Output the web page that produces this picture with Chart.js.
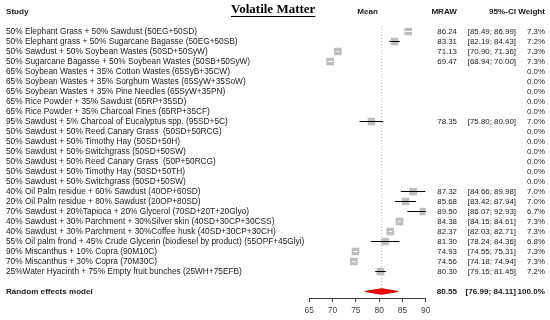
<!DOCTYPE html>
<html>
<head>
<meta charset="utf-8">
<script src="https://cdn.jsdelivr.net/npm/chart.js@4.4.1/dist/chart.umd.min.js"></script>
<style>
  html, body { margin: 0; padding: 0; background: #fff; }
</style>
</head>
<body>
<canvas id="forest" width="550" height="320"></canvas>
<script>
// Study rows, top to bottom
const studyLabels = [
  "50% Elephant Grass + 50% Sawdust (50EG+50SD)",
  "50% Elephant grass + 50% Sugarcane Bagasse (50EG+50SB)",
  "50% Sawdust + 50% Soybean Wastes (50SD+50SyW)",
  "50% Sugarcane Bagasse + 50% Soybean Wastes (50SB+50SyW)",
  "65% Soybean Wastes + 35% Cotton Wastes (65SyB+35CW)",
  "65% Soybean Wastes + 35% Sorghum Wastes (65SyW+35SoW)",
  "65% Soybean Wastes + 35% Pine Needles (65SyW+35PN)",
  "65% Rice Powder + 35% Sawdust (65RP+35SD)",
  "65% Rice Powder + 35% Charcoal Fines (65RP+35CF)",
  "95% Sawdust + 5% Charcoal of Eucalyptus spp. (95SD+5C)",
  "50% Sawdust + 50% Reed Canary Grass  (50SD+50RCG)",
  "50% Sawdust + 50% Timothy Hay (50SD+50H)",
  "50% Sawdust + 50% Switchgrass (50SD+50SW)",
  "50% Sawdust + 50% Reed Canary Grass  (50P+50RCG)",
  "50% Sawdust + 50% Timothy Hay (50SD+50TH)",
  "50% Sawdust + 50% Switchgrass (50SD+50SW)",
  "40% Oil Palm residue + 60% Sawdust (40OP+60SD)",
  "20% Oil Palm residue + 80% Sawdust (20OP+80SD)",
  "70% Sawdust + 20%Tapioca + 20% Glycerol (70SD+20T+20Glyo)",
  "40% Sawdust + 30% Parchment + 30%Silver skin (40SD+30CP+30CSS)",
  "40% Sawdust + 30% Parchment + 30%Coffee husk (40SD+30CP+30CH)",
  "55% Oil palm frond + 45% Crude Glycerin (biodiesel by product) (55OPF+45Glyi)",
  "90% Miscanthus + 10% Copra (90M10C)",
  "70% Miscanthus + 30% Copra (70M30C)",
  "25%Water Hyacinth + 75% Empty fruit bunches (25WH+75EFB)"
];

// Mean (MRAW) and 95% CI per study, null when the study has no estimate
const meanValues = [86.24, 83.31, 71.13, 69.47, null, null, null, null, null, 78.35,
  null, null, null, null, null, null, 87.32, 85.68, 89.50, 84.38, 82.37, 81.30, 74.93, 74.56, 80.30];
const ciLower = [85.49, 82.19, 70.90, 68.94, null, null, null, null, null, 75.80,
  null, null, null, null, null, null, 84.66, 83.42, 86.07, 84.15, 82.03, 78.24, 74.55, 74.18, 79.15];
const ciUpper = [86.99, 84.43, 71.36, 70.00, null, null, null, null, null, 80.90,
  null, null, null, null, null, null, 89.98, 87.94, 92.93, 84.61, 82.71, 84.36, 75.31, 74.94, 81.45];
const weights = [7.3, 7.2, 7.3, 7.3, 0, 0, 0, 0, 0, 7.0,
  0, 0, 0, 0, 0, 0, 7.0, 7.0, 6.7, 7.3, 7.3, 6.8, 7.3, 7.3, 7.2];

// Random effects summary
const pooledLabel = "Random effects model";
const pooledMean = 80.55;
const pooledLower = 76.99;
const pooledUpper = 84.11;
const pooledWeight = 100.0;

const xTickValues = [65, 70, 75, 80, 85, 90];

document.addEventListener("DOMContentLoaded", function() {
  const pooledRow = studyLabels.length + 1;   // one blank row before the summary
  const squareUnits = 1.6;                    // approx. square width in x units
  const txtFont = '8.3px "Liberation Sans", Arial, sans-serif';
  const numFont = '7.9px "Liberation Sans", Arial, sans-serif';
  const boldFont = 'bold 8.1px "Liberation Sans", Arial, sans-serif';

  // squares (size from weight)
  const squarePoints = [];
  const squareRadius = [];
  // CI lines, split in black (outside square) and white (inside square)
  const ciOuter = [];
  const ciInner = [];
  meanValues.forEach((m, i) => {
    if (m === null) return;
    squarePoints.push({ x: m, y: i });
    const side = 7.7 * Math.sqrt(weights[i] / 7.3);
    squareRadius.push(side / (2 * Math.SQRT1_2));
    const target = (ciUpper[i] - ciLower[i]) < squareUnits ? ciInner : ciOuter;
    target.push({ x: ciLower[i], y: i }, { x: ciUpper[i], y: i }, { x: null, y: null });
  });

  // summary diamond
  const dh = 0.28;
  const diamond = [
    { x: pooledLower, y: pooledRow },
    { x: pooledMean, y: pooledRow - dh },
    { x: pooledUpper, y: pooledRow },
    { x: pooledMean, y: pooledRow + dh },
    { x: pooledLower, y: pooledRow }
  ];

  // text columns drawn next to the plot
  const textColumns = {
    id: "textColumns",
    afterDraw(chart) {
      const { ctx, scales: { x, y } } = chart;
      const colMraw = 457, colCi = 516, colW = 545, colStudy = 6;
      const fmt = v => v.toFixed(2);
      ctx.save();
      ctx.textBaseline = "middle";
      ctx.fillStyle = "#1a1a1a";

      // headers
      const hy = y.getPixelForValue(-2);
      ctx.font = boldFont;
      ctx.textAlign = "left";
      ctx.fillText("Study", colStudy, hy);
      ctx.textAlign = "center";
      ctx.fillText("Mean", (x.left + x.right) / 2, hy);
      ctx.textAlign = "right";
      ctx.fillText("MRAW", colMraw, hy);
      ctx.fillText("95%-CI", colCi, hy);
      ctx.fillText("Weight", colW, hy);

      // title
      ctx.font = 'bold 13px "Liberation Serif", "Times New Roman", serif';
      ctx.textAlign = "left";
      ctx.fillStyle = "#000";
      const title = "Volatile Matter";
      ctx.fillText(title, 231, 10);
      const tw = ctx.measureText(title).width;
      ctx.fillRect(231, 16, tw, 1);

      // study rows
      ctx.fillStyle = "#1a1a1a";
      studyLabels.forEach((label, i) => {
        const py = y.getPixelForValue(i);
        ctx.font = txtFont;
        ctx.textAlign = "left";
        ctx.fillText(label, colStudy, py);
        ctx.font = numFont;
        ctx.textAlign = "right";
        if (meanValues[i] !== null) {
          ctx.fillText(fmt(meanValues[i]), colMraw, py);
          ctx.fillText("[" + fmt(ciLower[i]) + "; " + fmt(ciUpper[i]) + "]", colCi, py);
        }
        ctx.fillText(weights[i].toFixed(1) + "%", colW, py);
      });

      // summary row
      const py = y.getPixelForValue(pooledRow);
      ctx.font = boldFont;
      ctx.textAlign = "left";
      ctx.fillText(pooledLabel, colStudy, py);
      ctx.textAlign = "right";
      ctx.fillText(fmt(pooledMean), colMraw, py);
      ctx.fillText("[" + fmt(pooledLower) + "; " + fmt(pooledUpper) + "]", colCi, py);
      ctx.fillText(pooledWeight.toFixed(1) + "%", colW, py);
      ctx.restore();
    }
  };

  new Chart(document.getElementById("forest"), {
    type: "scatter",
    data: {
      datasets: [
        {
          // dotted line at the pooled estimate
          data: [{ x: pooledMean, y: -0.55 }, { x: pooledMean, y: pooledRow }],
          showLine: true,
          borderColor: "#b0b0b0",
          borderWidth: 1,
          borderDash: [1, 2],
          pointRadius: 0,
          order: 5
        },
        {
          data: squarePoints,
          pointStyle: "rect",
          pointRadius: squareRadius,
          backgroundColor: "#bebebe",
          borderWidth: 0,
          order: 4
        },
        {
          data: ciOuter,
          showLine: true,
          spanGaps: false,
          borderColor: "#000",
          borderWidth: 1,
          pointRadius: 0,
          order: 3
        },
        {
          data: ciInner,
          showLine: true,
          spanGaps: false,
          borderColor: "#fff",
          borderWidth: 1,
          pointRadius: 0,
          order: 2
        },
        {
          data: diamond,
          showLine: true,
          fill: "shape",
          backgroundColor: "#ee0000",
          borderColor: "#cc0000",
          borderWidth: 1,
          pointRadius: 0,
          order: 1
        }
      ]
    },
    options: {
      responsive: false,
      animation: false,
      layout: { padding: { left: 309.3, right: 124.3, top: 21.5, bottom: 0 } },
      plugins: {
        legend: { display: false },
        tooltip: { enabled: false }
      },
      scales: {
        x: {
          type: "linear",
          min: 65,
          max: 90,
          afterBuildTicks: axis => { axis.ticks = xTickValues.map(v => ({ value: v })); },
          afterFit: axis => { axis.height = 22; },
          ticks: {
            color: "#444",
            padding: 4,
            font: { family: '"Liberation Sans", Arial, sans-serif', size: 8.5 }
          },
          grid: { drawOnChartArea: false, drawTicks: true, tickLength: 4, color: "#444" },
          border: { display: true, color: "#444", width: 1 }
        },
        y: {
          type: "linear",
          display: false,
          reverse: true,
          min: -1,
          max: 26.65
        }
      }
    },
    plugins: [textColumns]
  });
});
</script>
</body>
</html>
